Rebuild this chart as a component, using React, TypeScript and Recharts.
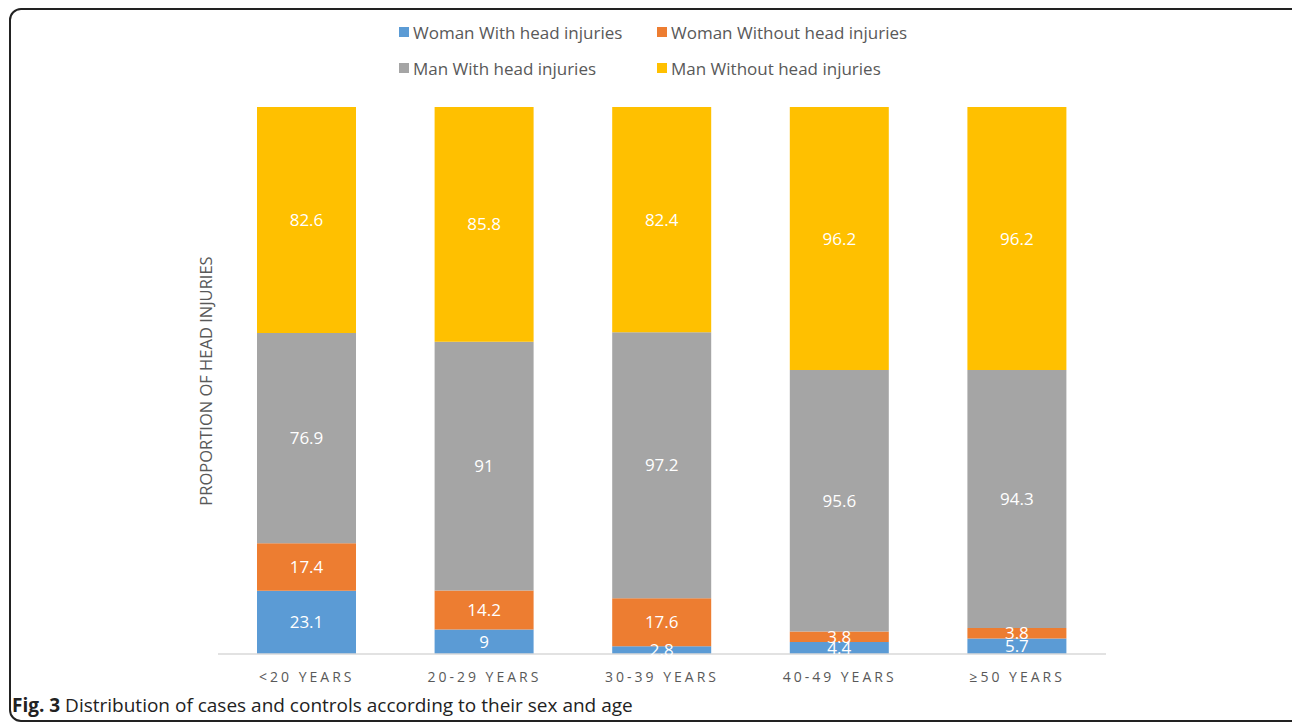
import { BarChart, Bar, XAxis, YAxis, LabelList } from 'recharts'

const categories = ['<20 YEARS', '20-29 YEARS', '30-39 YEARS', '40-49 YEARS', '≥50 YEARS']
const womanWith = [23.1, 9, 2.8, 4.4, 5.7]
const womanWithout = [17.4, 14.2, 17.6, 3.8, 3.8]
const manWith = [76.9, 91, 97.2, 95.6, 94.3]
const manWithout = [82.6, 85.8, 82.4, 96.2, 96.2]

const SERIES = [
  { key: 'womanWith', name: 'Woman With head injuries', color: '#5B9BD5' },
  { key: 'womanWithout', name: 'Woman Without head injuries', color: '#ED7D31' },
  { key: 'manWith', name: 'Man With head injuries', color: '#A5A5A5' },
  { key: 'manWithout', name: 'Man Without head injuries', color: '#FFC000' },
]

const data = categories.map((c, i) => ({
  cat: c,
  womanWith: womanWith[i],
  womanWithout: womanWithout[i],
  manWith: manWith[i],
  manWithout: manWithout[i],
}))

const FONT = '"Open Sans", "Noto Sans", sans-serif'
const TEXT = '#595959'

// legend laid out in two rows like the original
const legendPos = [
  { left: 399, top: 32 },
  { left: 657, top: 32 },
  { left: 399, top: 68 },
  { left: 657, top: 68 },
]

export default function App() {
  return (
    <div style={{ position: 'absolute', left: 0, top: 0, width: 1292, height: 726, overflow: 'hidden', background: '#fff', fontFamily: FONT }}>
      <div style={{
        position: 'absolute', left: 9, top: 8, width: 1320, height: 714,
        border: '2px solid #222', borderRadius: 12, boxSizing: 'border-box',
      }} />

      <BarChart
        width={1292}
        height={726}
        data={data}
        margin={{ top: 107, right: 186, left: 218, bottom: 42 }}
        style={{ position: 'absolute', left: 0, top: 0 }}
      >
        <XAxis
          dataKey="cat"
          axisLine={{ stroke: '#D9D9D9', strokeWidth: 1.5 }}
          tickLine={false}
          tick={{ fontSize: 14, fill: TEXT, letterSpacing: 3, fontFamily: FONT }}
          tickMargin={12}
        />
        <YAxis hide domain={[0, 200]} />
        {SERIES.map(s => (
          <Bar key={s.key} dataKey={s.key} stackId="a" fill={s.color} barSize={99} isAnimationActive={false}>
            <LabelList dataKey={s.key} position="center" fill="#fff" fontSize={17} fontFamily={FONT} />
          </Bar>
        ))}
      </BarChart>

      {SERIES.map((s, i) => (
        <div key={s.key} style={{
          position: 'absolute', left: legendPos[i].left, top: legendPos[i].top - 12,
          display: 'flex', alignItems: 'center', height: 24, fontSize: 17, color: TEXT, whiteSpace: 'nowrap',
        }}>
          <span style={{ display: 'inline-block', width: 10, height: 10, background: s.color, marginRight: 4 }} />
          {s.name}
        </div>
      ))}

      <div style={{
        position: 'absolute', left: 205, top: 381, transform: 'translate(-50%, -50%) rotate(-90deg)',
        fontSize: 16.5, color: TEXT, whiteSpace: 'nowrap',
      }}>
        PROPORTION OF HEAD INJURIES
      </div>

      <div style={{ position: 'absolute', left: 12, top: 692, fontSize: 19, color: '#222', whiteSpace: 'nowrap' }}>
        <b>Fig. 3</b> Distribution of cases and controls according to their sex and age
      </div>
    </div>
  )
}
